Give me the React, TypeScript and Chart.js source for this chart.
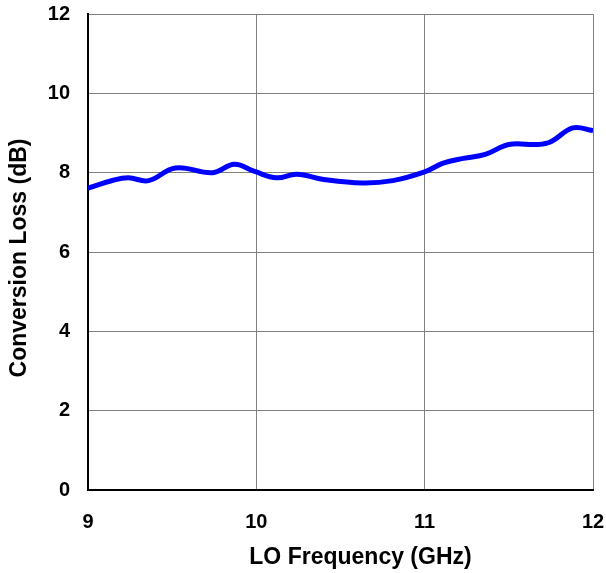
import React, { useEffect, useRef } from "react";
import { Chart, registerables } from "chart.js";

Chart.register(...registerables);

const freqGHz = [9.0, 9.15, 9.24, 9.36, 9.52, 9.74, 9.87, 9.99, 10.12, 10.24, 10.4, 10.63, 10.81, 11.0, 11.11, 11.23, 11.36, 11.5, 11.67, 11.75, 11.88, 12.0];
const lossDb = [7.61, 7.81, 7.87, 7.8, 8.12, 8.0, 8.21, 8.03, 7.87, 7.96, 7.83, 7.74, 7.8, 8.02, 8.24, 8.36, 8.46, 8.71, 8.71, 8.78, 9.13, 9.06];
const xTicks = [9, 10, 11, 12];
const yTicks = [0, 2, 4, 6, 8, 10, 12];
const xTitle = "LO Frequency (GHz)";
const yTitle = "Conversion Loss (dB)";

const FAMILY = "'Liberation Sans', Arial, sans-serif";

function zeroPad(s: any) {
  s.paddingTop = 0;
  s.paddingBottom = 0;
  s.paddingLeft = 0;
  s.paddingRight = 0;
}

const axisTitles = {
  id: "axisTitles",
  afterDraw(chart: any) {
    const { ctx, chartArea } = chart;
    ctx.save();
    ctx.fillStyle = "#000";
    ctx.font = `bold 23px ${FAMILY}`;
    ctx.textAlign = "center";
    ctx.textBaseline = "middle";
    const cx = (chartArea.left + chartArea.right) / 2 + 20;
    ctx.fillText(xTitle, cx, chartArea.bottom + 68);
    const cy = (chartArea.top + chartArea.bottom) / 2 + 6;
    ctx.translate(20, cy);
    ctx.rotate(-Math.PI / 2);
    ctx.fillText(yTitle, 0, 0);
    ctx.restore();
  },
};

export default function App() {
  const ref = useRef<HTMLCanvasElement | null>(null);
  useEffect(() => {
    if (!ref.current) return;
    const chart = new Chart(ref.current, {
      type: "line",
      data: {
        datasets: [
          {
            data: freqGHz.map((f, i) => ({ x: f, y: lossDb[i] })),
            borderColor: "#0000ff",
            borderWidth: 5,
            pointRadius: 0,
            tension: 0.4,
            fill: false,
          },
        ],
      },
      options: {
        animation: false,
        responsive: false,
        layout: { padding: { top: 14, right: 13, left: 0, bottom: 0 } },
        plugins: { legend: { display: false }, tooltip: { enabled: false } },
        scales: {
          x: {
            type: "linear",
            min: 9,
            max: 12,
            afterBuildTicks: (s: any) => {
              s.ticks = xTicks.map((v) => ({ value: v }));
            },
            afterFit: (s: any) => {
              s.height = 83;
              zeroPad(s);
            },
            ticks: {
              color: "#000",
              padding: 20,
              font: { family: FAMILY, size: 20, weight: "bold" },
            },
            grid: { color: "#808080", lineWidth: 1, drawTicks: false },
            border: { color: "#000", width: 2 },
          },
          y: {
            type: "linear",
            min: 0,
            max: 12,
            afterBuildTicks: (s: any) => {
              s.ticks = yTicks.map((v) => ({ value: v }));
            },
            afterFit: (s: any) => {
              s.width = 88;
              zeroPad(s);
            },
            ticks: {
              color: "#000",
              padding: 18,
              font: { family: FAMILY, size: 20, weight: "bold" },
            },
            grid: { color: "#808080", lineWidth: 1, drawTicks: false },
            border: { color: "#000", width: 2 },
          },
        },
      },
      plugins: [axisTitles],
    });
    return () => chart.destroy();
  }, []);
  return (
    <div style={{ position: "fixed", left: 0, top: 0, width: 606, height: 573, background: "#fff" }}>
      <canvas ref={ref} width={606} height={573} style={{ display: "block" }} />
    </div>
  );
}
